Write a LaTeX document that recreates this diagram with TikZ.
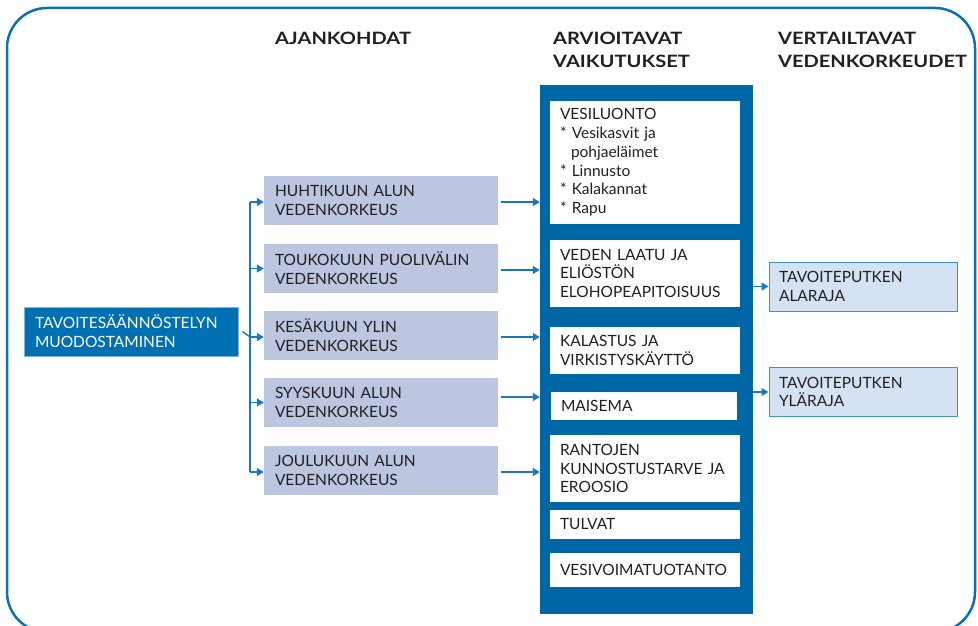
\documentclass[tikz,border=0pt]{standalone}
\usepackage{fontspec}
\setmainfont{Lato}
\newfontfamily\headfam{Lato}[FakeStretch=1.18]
\usetikzlibrary{arrows.meta}
\definecolor{frameblue}{HTML}{0A6FB6}
\definecolor{colblue}{HTML}{0067A7}
\definecolor{mainblue}{HTML}{0070B2}
\definecolor{mainborder}{HTML}{7FB3DE}
\definecolor{lav}{HTML}{BCC6E0}
\definecolor{pale}{HTML}{D5E2F3}
\definecolor{paleborder}{HTML}{3E90CC}
\definecolor{arrowblue}{HTML}{1B78BE}
\definecolor{txt}{HTML}{231F20}
\newcommand{\bodyfont}{\fontsize{15.5}{18.8}\selectfont}
\newcommand{\headfont}{\headfam\fontsize{17}{23}\selectfont\bfseries}
\begin{document}
\begin{tikzpicture}[x=1pt,y=-1pt,
  every node/.style={inner ysep=0pt, text=txt},
  lbox/.style={fill=lav, minimum width=234pt, minimum height=49pt, text width=212pt, inner xsep=11pt, align=left, font=\bodyfont},
  wbox/.style={fill=white, minimum width=190pt, text width=170pt, inner xsep=10pt, align=left, font=\bodyfont},
  rbox/.style={fill=pale, draw=paleborder, line width=1pt, minimum width=188pt, minimum height=49pt, text width=168pt, inner xsep=10pt, align=left, font=\bodyfont},
  head/.style={anchor=base west, inner sep=0pt, align=left, font=\headfont},
  arr/.style={draw=arrowblue, line width=1.4pt, -{Triangle[length=7pt,width=8pt]}},
  conn/.style={draw=arrowblue, line width=1.4pt}]
\useasboundingbox (0,0) rectangle (978,626);
\begin{scope}
\clip (0,0) rectangle (978,626);
\draw[frameblue, line width=2.5pt, rounded corners=40pt] (7,8) rectangle (975,632);
\end{scope}

% headers
\node[head] (hA) at (275,45) {AJANKOHDAT};
\node[head] (hB) at (553,68) {ARVIOITAVAT\\VAIKUTUKSET};
\node[head] (hC) at (778,68) {VERTAILTAVAT\\VEDENKORKEUDET};

% main box
\node[fill=mainblue, draw=mainborder, line width=1pt, minimum width=214pt, minimum height=49pt, text width=192pt, inner xsep=11pt, align=left, font=\bodyfont, text=white] (main) at (131,331.5) {TAVOITESÄÄNNÖSTELYN\\MUODOSTAMINEN};

% left boxes
\node[lbox] (h1) at (381,200.5) {HUHTIKUUN ALUN\\VEDENKORKEUS};
\node[lbox] (h2) at (381,268.5) {TOUKOKUUN PUOLIVÄLIN\\VEDENKORKEUS};
\node[lbox] (h3) at (381,335.5) {KESÄKUUN YLIN\\VEDENKORKEUS};
\node[lbox] (h4) at (381,402.5) {SYYSKUUN ALUN\\VEDENKORKEUS};
\node[lbox] (h5) at (381,470.5) {JOULUKUUN ALUN\\VEDENKORKEUS};

% column
\node[fill=colblue, minimum width=213pt, minimum height=529pt, inner sep=0pt] (col) at (646.5,349.5) {};
\node[wbox, minimum height=123pt] (v1) at (645,162.5) {VESILUONTO\\\relax
* Vesikasvit ja\\\relax
\hspace*{11pt}pohjaeläimet\\\relax
* Linnusto\\\relax
* Kalakannat\\\relax
* Rapu};
\node[wbox, minimum height=67pt] (v2) at (645,273.5) {VEDEN LAATU JA\\ELIÖSTÖN\\ELOHOPEAPITOISUUS};
\node[wbox, minimum height=47pt] (v3) at (645,350.5) {KALASTUS JA\\VIRKISTYSKÄYTTÖ};
\node[wbox, minimum width=186pt, text width=166pt, minimum height=28pt] (v4) at (644,406) {MAISEMA};
\node[wbox, minimum height=67pt] (v5) at (645,468.5) {RANTOJEN\\KUNNOSTUSTARVE JA\\EROOSIO};
\node[wbox, minimum height=29pt] (v6) at (645,524.5) {TULVAT};
\node[wbox, minimum height=34pt] (v7) at (645,570) {VESIVOIMATUOTANTO};

% right boxes
\node[rbox] (r1) at (863,286.5) {TAVOITEPUTKEN\\ALARAJA};
\node[rbox] (r2) at (863,392) {TAVOITEPUTKEN\\YLÄRAJA};

% bracket
\coordinate (bt) at (250,202);
\coordinate (bb) at (250,472);
\coordinate (bm) at (250,337);
\draw[conn] ([xshift=4pt]main.east) -- (bm);
\draw[conn] (bt) -- (bb);
\draw[arr] (bt) -- (h1.west |- bt);
\draw[arr] (bt |- h2.west) -- (h2.west);
\draw[arr] (bm) -- (h3.west |- bm);
\draw[arr] (bt |- h4.west) -- (h4.west);
\draw[arr] (bb) -- (h5.west |- bb);

% arrows to column
\draw[arr] ([xshift=3pt,yshift=-1.5pt]h1.east) coordinate (s1) -- (col.west |- s1);
\draw[arr] ([xshift=3pt,yshift=-1.5pt]h2.east) coordinate (s2) -- (col.west |- s2);
\draw[arr] ([xshift=3pt,yshift=-1.5pt]h3.east) coordinate (s3) -- (col.west |- s3);
\draw[arr] ([xshift=3pt,yshift=5.5pt]h4.east) coordinate (s4) -- (col.west |- s4);
\draw[arr] ([xshift=3pt,yshift=-1.5pt]h5.east) coordinate (s5) -- (col.west |- s5);

% arrows to right boxes
\draw[arr] (col.east |- r1.west) -- (r1.west);
\draw[arr] (col.east |- r2.west) -- (r2.west);
\end{tikzpicture}
\end{document}
